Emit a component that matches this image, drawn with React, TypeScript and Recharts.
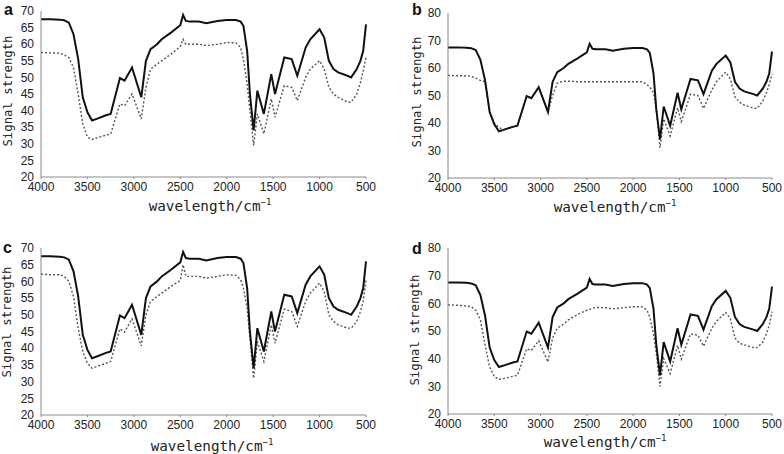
import { LineChart, Line, XAxis, YAxis } from 'recharts'

// wavenumber grid (cm-1), read left to right off the plots
const WAVENUMBERS = [
  4000, 3900, 3800, 3750, 3700, 3650, 3600, 3550, 3500, 3450, 3400, 3300, 3250, 3150,
  3100, 3020, 2920, 2870, 2820, 2750, 2700, 2600, 2500, 2470, 2440, 2400, 2300, 2220,
  2100, 2000, 1900, 1850, 1820, 1780, 1750, 1710, 1670, 1600, 1520, 1480, 1380, 1300,
  1240, 1150, 1100, 1000, 950, 900, 850, 800, 700, 660, 600, 560, 530, 500,
]

// solid curve, same in all four panels
const REFERENCE = [
  67.5, 67.5, 67.4, 67.2, 66.5, 63, 55.6, 44, 39.5, 37, 37.5, 38.6, 39, 49.8,
  49, 53, 44, 55, 58.5, 60, 61.5, 63.5, 65.7, 68.8, 67, 66.8, 66.8, 66.3,
  67, 67.3, 67.3, 66.8, 65.5, 58, 45, 34, 46, 39, 51, 45, 56, 55.5,
  50.5, 59, 61.5, 64.5, 62, 55, 52.5, 51.5, 50.5, 50, 52.5, 55, 58, 66,
]

// dotted curves
const SAMPLE_A = [
  57.5, 57.4, 57.3, 56.8, 56, 53, 45, 36, 32, 31.3, 31.8, 32.6, 33, 42,
  41.5, 45, 37.5, 47, 52.5, 54, 55, 57, 59.3, 61.5, 60, 60, 60, 59.6,
  60, 60.5, 60.4, 59, 55.5, 48, 40, 29.5, 39, 33, 43.5, 38, 47.5, 47,
  43, 50, 52.5, 55, 52.5, 47, 45, 44, 42.6, 42.5, 45, 48.5, 52, 56,
]
const SAMPLE_B = [
  57.3, 57.2, 57.2, 57, 56.3, 55.5, 55, 44, 40, 38.3, 37.6, 38.6, 39, 49.8,
  49, 53, 44, 50, 54.5, 55.2, 55.2, 55, 55, 55, 55, 55, 55, 55,
  55, 55, 55, 54, 53, 51, 45, 31, 41.5, 35.3, 45.5, 40.5, 50.5, 50,
  45.3, 52, 55, 58.5, 56, 49.5, 47.5, 46.5, 45.4, 45.3, 48, 51, 54, 57.8,
]
const SAMPLE_C = [
  62.2, 62, 62, 61.5, 60, 55.5, 46, 39, 35.5, 34, 34.5, 35.5, 36, 45.8,
  44.8, 48.8, 40.7, 50, 54, 55.5, 56.5, 58.5, 60.3, 65, 61.5, 61.5, 61.5, 61,
  61.5, 62, 61.8, 60.5, 58, 52, 43, 31, 42, 36, 47, 41.5, 51.7, 51,
  46.5, 54, 56.5, 59.5, 57, 50, 48, 47, 46, 46, 48, 51, 54, 60.3,
]
const SAMPLE_D = [
  59.5, 59.3, 59, 58.8, 57.5, 54, 45, 37, 33.5, 32.5, 32.8, 33.6, 34, 43.6,
  43, 46.5, 38.8, 47.5, 51, 52.5, 54, 56, 57.5, 57.8, 58.2, 58.5, 58.4, 58,
  58.4, 58.8, 58.7, 57.5, 55, 49, 42, 30, 40, 34.6, 44.8, 39.8, 49, 48.5,
  44.5, 51, 53.5, 56.7, 54.5, 47.5, 45.5, 45, 44, 44, 46, 49, 52, 57,
]

const X_TICKS = [4000, 3500, 3000, 2500, 2000, 1500, 1000, 500]
const Y_TICKS_FINE = [20, 25, 30, 35, 40, 45, 50, 55, 60, 65, 70]
const Y_TICKS_COARSE = [20, 30, 40, 50, 60, 70, 80]

const tickStyle = { fontSize: 12, fill: '#222', fontFamily: '"Liberation Sans", Arial, sans-serif' }
const monoFont = '"DejaVu Sans Mono", monospace'

interface PanelProps {
  left: number
  top: number
  width: number
  height: number
  yAxisWidth: number
  margin: { top: number; right: number }
  xAxisHeight: number
  sample: number[]
  yTicks: number[]
}

function Panel({ left, top, width, height, yAxisWidth, margin, xAxisHeight, sample, yTicks }: PanelProps) {
  const rows = WAVENUMBERS.map((w, i) => ({ w, ref: REFERENCE[i], sample: sample[i] }))
  return (
    <div style={{ position: 'absolute', left, top }}>
      <LineChart width={width} height={height} data={rows} margin={{ top: margin.top, right: margin.right, left: 0, bottom: 0 }}>
        <XAxis
          dataKey="w" type="number" domain={[500, 4000]} reversed ticks={X_TICKS}
          height={xAxisHeight} tick={tickStyle} tickSize={2} tickMargin={3}
          stroke="#8a8a8a" interval={0}
        />
        <YAxis
          type="number" domain={[yTicks[0], yTicks[yTicks.length - 1]]} ticks={yTicks}
          width={yAxisWidth} tick={tickStyle} tickLine={false} tickSize={5} tickMargin={2}
          stroke="#8a8a8a" interval={0}
        />
        <Line dataKey="sample" stroke="#555" strokeWidth={1.4} strokeDasharray="2 2" dot={false} isAnimationActive={false} />
        <Line dataKey="ref" stroke="#111" strokeWidth={2} dot={false} isAnimationActive={false} />
      </LineChart>
    </div>
  )
}

function Titles() {
  const letters = [
    { t: 'a', x: 4, y: 15 },
    { t: 'b', x: 412, y: 15 },
    { t: 'c', x: 3, y: 253 },
    { t: 'd', x: 412, y: 254 },
  ]
  const yLabels = [
    { x: 7.5, y: 91 },
    { x: 416.5, y: 92 },
    { x: 7, y: 322 },
    { x: 415, y: 330 },
  ]
  const xLabels = [
    { x: 210, y: 211 },
    { x: 615, y: 212 },
    { x: 212, y: 451 },
    { x: 605, y: 447 },
  ]
  return (
    <svg width={784} height={454} style={{ position: 'absolute', left: 0, top: 0, pointerEvents: 'none' }}>
      {letters.map((l) => (
        <text key={l.t} x={l.x} y={l.y} fontSize={16} fontWeight="bold" fontFamily='"Liberation Sans", Arial, sans-serif' fill="#111">
          {l.t}
        </text>
      ))}
      {yLabels.map((p, i) => (
        <text
          key={i} transform={`translate(${p.x},${p.y}) rotate(-90)`} textAnchor="middle" dominantBaseline="central"
          fontSize={12.3} fontFamily={monoFont} fill="#222"
        >
          Signal strength
        </text>
      ))}
      {xLabels.map((p, i) => (
        <text key={i} x={p.x} y={p.y} textAnchor="middle" fontSize={14.3} fontFamily={monoFont} fill="#222">
          wavelength/cm<tspan dy={-6} fontSize={9}>−1</tspan>
        </text>
      ))}
    </svg>
  )
}

export default function App() {
  return (
    <div style={{ position: 'absolute', left: 0, top: 0, width: 784, height: 454, background: '#fff' }}>
      <Panel left={0} top={0} width={392} height={227} yAxisWidth={41} margin={{ top: 11, right: 26 }} xAxisHeight={50} sample={SAMPLE_A} yTicks={Y_TICKS_FINE} />
      <Panel left={392} top={0} width={392} height={227} yAxisWidth={56} margin={{ top: 13, right: 12 }} xAxisHeight={49} sample={SAMPLE_B} yTicks={Y_TICKS_COARSE} />
      <Panel left={0} top={227} width={392} height={227} yAxisWidth={41} margin={{ top: 21, right: 26 }} xAxisHeight={39} sample={SAMPLE_C} yTicks={Y_TICKS_FINE} />
      <Panel left={392} top={227} width={392} height={227} yAxisWidth={56} margin={{ top: 21, right: 12 }} xAxisHeight={40} sample={SAMPLE_D} yTicks={Y_TICKS_COARSE} />
      <Titles />
    </div>
  )
}
